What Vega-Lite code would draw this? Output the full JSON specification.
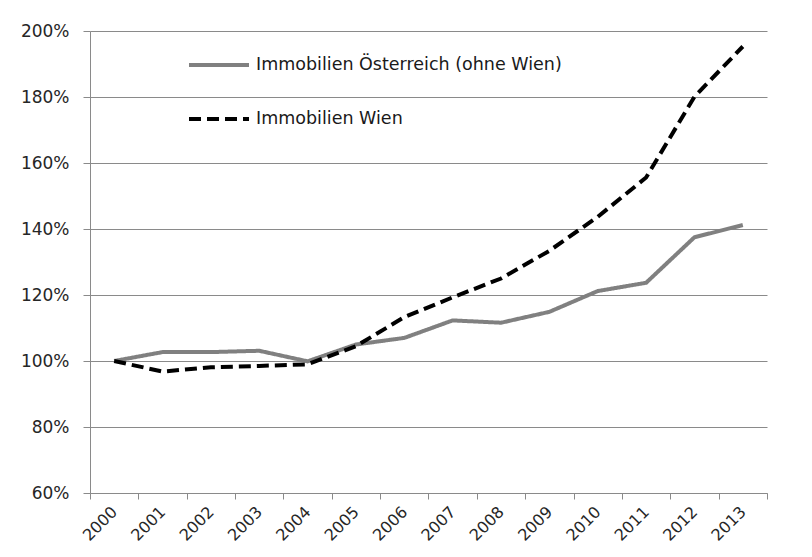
{
  "$schema": "https://vega.github.io/schema/vega-lite/v6.json",
  "width": 677,
  "height": 462,
  "autosize": "none",
  "padding": {"left": 90, "top": 31, "right": 45, "bottom": 64},
  "background": "white",
  "config": {
    "font": "DejaVu Sans",
    "view": {"stroke": null},
    "axis": {"labelFont": "DejaVu Sans", "labelColor": "#262626", "domainColor": "#8a8a8a", "tickColor": "#8a8a8a", "gridColor": "#8a8a8a", "domainWidth": 1, "tickWidth": 1, "gridWidth": 1}
  },
  "data": {
    "values": [
      {"year": "2000", "series": "Immobilien Österreich (ohne Wien)", "value": 1.000},
      {"year": "2001", "series": "Immobilien Österreich (ohne Wien)", "value": 1.027},
      {"year": "2002", "series": "Immobilien Österreich (ohne Wien)", "value": 1.027},
      {"year": "2003", "series": "Immobilien Österreich (ohne Wien)", "value": 1.031},
      {"year": "2004", "series": "Immobilien Österreich (ohne Wien)", "value": 0.999},
      {"year": "2005", "series": "Immobilien Österreich (ohne Wien)", "value": 1.050},
      {"year": "2006", "series": "Immobilien Österreich (ohne Wien)", "value": 1.070},
      {"year": "2007", "series": "Immobilien Österreich (ohne Wien)", "value": 1.123},
      {"year": "2008", "series": "Immobilien Österreich (ohne Wien)", "value": 1.116},
      {"year": "2009", "series": "Immobilien Österreich (ohne Wien)", "value": 1.149},
      {"year": "2010", "series": "Immobilien Österreich (ohne Wien)", "value": 1.212},
      {"year": "2011", "series": "Immobilien Österreich (ohne Wien)", "value": 1.237},
      {"year": "2012", "series": "Immobilien Österreich (ohne Wien)", "value": 1.375},
      {"year": "2013", "series": "Immobilien Österreich (ohne Wien)", "value": 1.412},
      {"year": "2000", "series": "Immobilien Wien", "value": 1.000},
      {"year": "2001", "series": "Immobilien Wien", "value": 0.968},
      {"year": "2002", "series": "Immobilien Wien", "value": 0.981},
      {"year": "2003", "series": "Immobilien Wien", "value": 0.985},
      {"year": "2004", "series": "Immobilien Wien", "value": 0.990},
      {"year": "2005", "series": "Immobilien Wien", "value": 1.045},
      {"year": "2006", "series": "Immobilien Wien", "value": 1.133},
      {"year": "2007", "series": "Immobilien Wien", "value": 1.193},
      {"year": "2008", "series": "Immobilien Wien", "value": 1.250},
      {"year": "2009", "series": "Immobilien Wien", "value": 1.334},
      {"year": "2010", "series": "Immobilien Wien", "value": 1.437},
      {"year": "2011", "series": "Immobilien Wien", "value": 1.556},
      {"year": "2012", "series": "Immobilien Wien", "value": 1.801},
      {"year": "2013", "series": "Immobilien Wien", "value": 1.953}
    ]
  },
  "mark": {"type": "line", "strokeWidth": 4},
  "encoding": {
    "x": {
      "field": "year",
      "type": "ordinal",
      "bandPosition": 0.5,
      "scale": {"type": "band", "paddingInner": 0, "paddingOuter": 0},
      "axis": {
        "title": null,
        "tickBand": "extent",
        "grid": false,
        "tickSize": 6,
        "labelAngle": -45,
        "labelAlign": "right",
        "labelBaseline": "middle",
        "labelPadding": 10,
        "labelFontSize": 16,
        "labelOverlap": false
      }
    },
    "y": {
      "field": "value",
      "type": "quantitative",
      "scale": {"domain": [0.6, 2.0], "nice": false, "zero": false},
      "axis": {
        "title": null,
        "values": [0.6, 0.8, 1.0, 1.2, 1.4, 1.6, 1.8, 2.0],
        "format": ".0%",
        "grid": true,
        "tickSize": 7,
        "labelPadding": 14,
        "labelFontSize": 17
      }
    },
    "color": {
      "field": "series",
      "type": "nominal",
      "scale": {"domain": ["Immobilien Österreich (ohne Wien)", "Immobilien Wien"], "range": ["#808080", "#000000"]},
      "legend": {
        "title": null,
        "orient": "none",
        "legendX": 97,
        "legendY": 2,
        "padding": 0,
        "symbolType": "stroke",
        "symbolSize": 3600,
        "symbolStrokeWidth": 4,
        "labelFont": "DejaVu Sans",
        "labelFontSize": 17.5,
        "labelColor": "#1a1a1a",
        "labelOffset": 5,
        "rowPadding": 13,
        "labelLimit": 400
      }
    },
    "strokeDash": {
      "field": "series",
      "type": "nominal",
      "scale": {"domain": ["Immobilien Österreich (ohne Wien)", "Immobilien Wien"], "range": [[1, 0], [12, 6]]},
      "legend": {
        "title": null,
        "orient": "none",
        "legendX": 97,
        "legendY": 2,
        "padding": 0,
        "symbolType": "stroke",
        "symbolSize": 3600,
        "symbolStrokeWidth": 4,
        "labelFont": "DejaVu Sans",
        "labelFontSize": 17.5,
        "labelColor": "#1a1a1a",
        "labelOffset": 5,
        "rowPadding": 13,
        "labelLimit": 400
      }
    }
  }
}
